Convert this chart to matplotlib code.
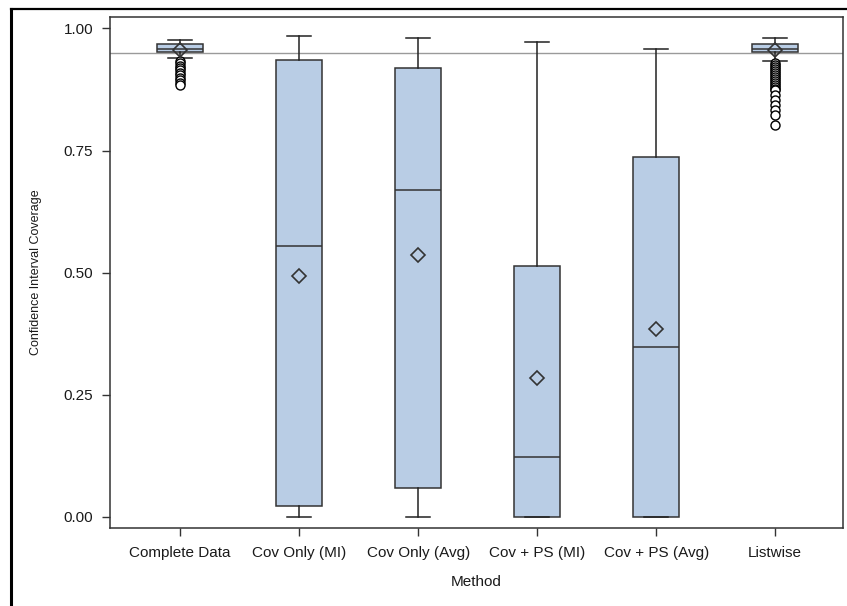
import matplotlib
matplotlib.use("Agg")
import matplotlib.pyplot as plt
from matplotlib import font_manager as fm
from matplotlib.lines import Line2D

plt.rcParams['font.family'] = ['Liberation Sans', 'DejaVu Sans']

# ---- data ----
methods = ["Complete Data", "Cov Only (MI)", "Cov Only (Avg)",
           "Cov + PS (MI)", "Cov + PS (Avg)", "Listwise"]
whisker_low = [0.939, 0.000, 0.000, 0.000, 0.000, 0.933]
q1 = [0.951, 0.022, 0.059, 0.000, 0.000, 0.951]
median = [0.958, 0.555, 0.669, 0.122, 0.348, 0.958]
q3 = [0.968, 0.935, 0.920, 0.513, 0.737, 0.968]
whisker_high = [0.976, 0.985, 0.980, 0.972, 0.958, 0.980]
mean = [0.955, 0.493, 0.536, 0.284, 0.384, 0.955]
outliers = [
    [0.934, 0.929, 0.924, 0.919, 0.914, 0.909, 0.904, 0.899, 0.894, 0.889, 0.884],
    [], [], [], [],
    [0.929, 0.925, 0.921, 0.917, 0.913, 0.909, 0.905, 0.901, 0.897, 0.893,
     0.889, 0.885, 0.881, 0.877, 0.873, 0.864, 0.854, 0.843, 0.833, 0.823, 0.802],
]
ref_value = 0.95
yticks = [0.00, 0.25, 0.50, 0.75, 1.00]

stats = []
for i, m in enumerate(methods):
    stats.append(dict(label=m, whislo=whisker_low[i], q1=q1[i], med=median[i],
                      q3=q3[i], whishi=whisker_high[i], mean=mean[i],
                      fliers=outliers[i]))

fig = plt.figure(figsize=(8.47, 6.06), dpi=100)
ax = fig.add_axes([0.1299, 0.1287, 0.9953 - 0.1299, 0.9724 - 0.1287])

edge = '#333333'
fill = '#B9CDE5'
ax.axhline(ref_value, color='#9a9a9a', lw=1.0, zorder=1)
ax.bxp(stats, positions=range(len(methods)), widths=0.39, patch_artist=True,
       showmeans=True, showfliers=True,
       boxprops=dict(facecolor=fill, edgecolor=edge, linewidth=1.1),
       medianprops=dict(color=edge, linewidth=1.1),
       whiskerprops=dict(color='#222222', linewidth=1.1),
       capprops=dict(color='#222222', linewidth=1.1),
       capwidths=0.2,
       meanprops=dict(marker='D', markerfacecolor='none', markeredgecolor=edge,
                      markersize=7, markeredgewidth=1.2),
       flierprops=dict(marker='o', markerfacecolor='white', markeredgecolor='black',
                       markersize=6.5, markeredgewidth=1.0),
       zorder=2)

ax.set_xlim(-0.59, 5.57)
ax.set_ylim(-0.023, 1.024)
ax.set_yticks(yticks)
ax.set_yticklabels([f"{v:.2f}" for v in yticks])
ax.set_xticks(range(len(methods)))
ax.set_xticklabels(methods)
ax.tick_params(axis='both', labelsize=11, length=6, width=1.0, color='#333333',
               labelcolor='#1a1a1a')
ax.tick_params(axis='x', pad=7)
ax.tick_params(axis='y', pad=6)
for s in ax.spines.values():
    s.set_color('#333333')
    s.set_linewidth(1.1)

ax.set_xlabel("Method", fontsize=11, color='#1a1a1a', labelpad=11)

narrow = None
try:
    fm.findfont('Liberation Sans Narrow', fallback_to_default=False)
    narrow = 'Liberation Sans Narrow'
except Exception:
    narrow = None
if narrow:
    ax.set_ylabel("Confidence Interval Coverage", fontsize=10.5, family=[narrow, 'DejaVu Sans'],
                  color='#1a1a1a', labelpad=16)
else:
    ax.set_ylabel("Confidence Interval Coverage", fontsize=9, color='#1a1a1a', labelpad=16)

# outer border lines (left and top)
fig.add_artist(Line2D([11/847, 11/847], [0, 1 - 9/606], color='black', lw=2.2,
                      transform=fig.transFigure))
fig.add_artist(Line2D([11/847, 1], [1 - 9/606, 1 - 9/606], color='black', lw=1.6,
                      transform=fig.transFigure))

fig.savefig("out.png", dpi=100)
